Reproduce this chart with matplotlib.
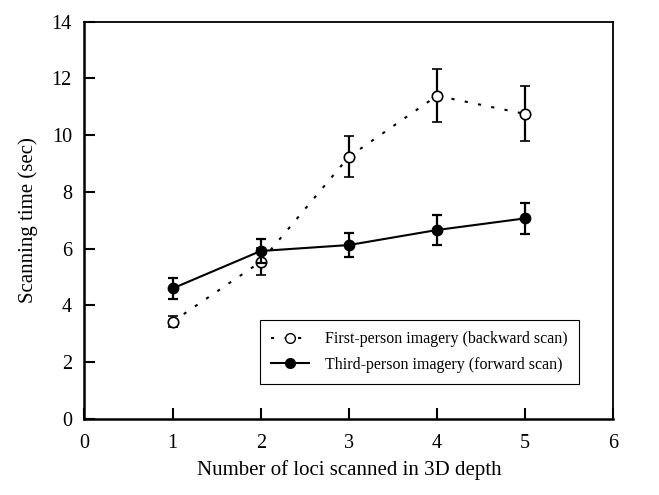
import matplotlib
matplotlib.use("Agg")
import matplotlib.pyplot as plt
from matplotlib.lines import Line2D

plt.rcParams['font.family'] = ['Liberation Serif', 'DejaVu Serif']

loci = [1, 2, 3, 4, 5]
first_person = [3.43, 5.54, 9.24, 11.39, 10.75]
first_err = [0.19, 0.48, 0.72, 0.94, 0.97]
third_person = [4.60, 5.92, 6.13, 6.66, 7.07]
third_err = [0.38, 0.41, 0.43, 0.53, 0.54]
x_ticks = [0, 1, 2, 3, 4, 5, 6]
y_ticks = [0, 2, 4, 6, 8, 10, 12, 14]
labels = ['First-person imagery (backward scan)', 'Third-person imagery (forward scan)']

fig = plt.figure(figsize=(6.59, 4.95), dpi=100)
ax = fig.add_axes([84.4/659, 1 - 419/495, (613.3-84.4)/659, (419-21.7)/495])

dot_style = (0, (1.5, 5))
ax.errorbar(loci, first_person, yerr=first_err, color='black', linestyle=dot_style,
            linewidth=1.5, marker='o', markersize=7.5, markerfacecolor='white',
            markeredgecolor='black', markeredgewidth=1.2, capsize=3.5, elinewidth=1.6,
            capthick=1.6, zorder=3)
ax.errorbar(loci, third_person, yerr=third_err, color='black', linestyle='-',
            linewidth=1.5, marker='o', markersize=7.5, markerfacecolor='black',
            markeredgecolor='black', capsize=3.5, elinewidth=1.6, capthick=1.6,
            zorder=4)

ax.set_xlim(0, 6)
ax.set_ylim(0, 14)
ax.set_xticks(x_ticks)
ax.set_yticks(y_ticks)
ax.tick_params(direction='in', length=8, width=1.5, labelsize=14.5, pad=9)
ax.tick_params(axis='x', pad=11)
for s in ['left', 'bottom']:
    ax.spines[s].set_linewidth(1.8)
for s in ['top', 'right']:
    ax.spines[s].set_linewidth(1.3)

ax.set_xlabel('Number of loci scanned in 3D depth', fontsize=15, labelpad=5)
ax.set_ylabel('Scanning time (sec)', fontsize=15, labelpad=10)

handles = [
    Line2D([], [], color='black', linestyle=dot_style, linewidth=1.5, marker='o',
           markersize=7, markerfacecolor='white', markeredgecolor='black'),
    Line2D([], [], color='black', linestyle='-', linewidth=1.5, marker='o',
           markersize=7, markerfacecolor='black', markeredgecolor='black'),
]
leg = ax.legend(handles, labels, loc='lower right', bbox_to_anchor=(0.935, 0.088),
                fontsize=11.5, frameon=True, fancybox=False, edgecolor='black',
                framealpha=1, handlelength=2.4, handletextpad=1.0, borderpad=0.7,
                labelspacing=0.6, borderaxespad=0)
leg.get_frame().set_linewidth(0.8)

fig.savefig('out.png', dpi=100)
